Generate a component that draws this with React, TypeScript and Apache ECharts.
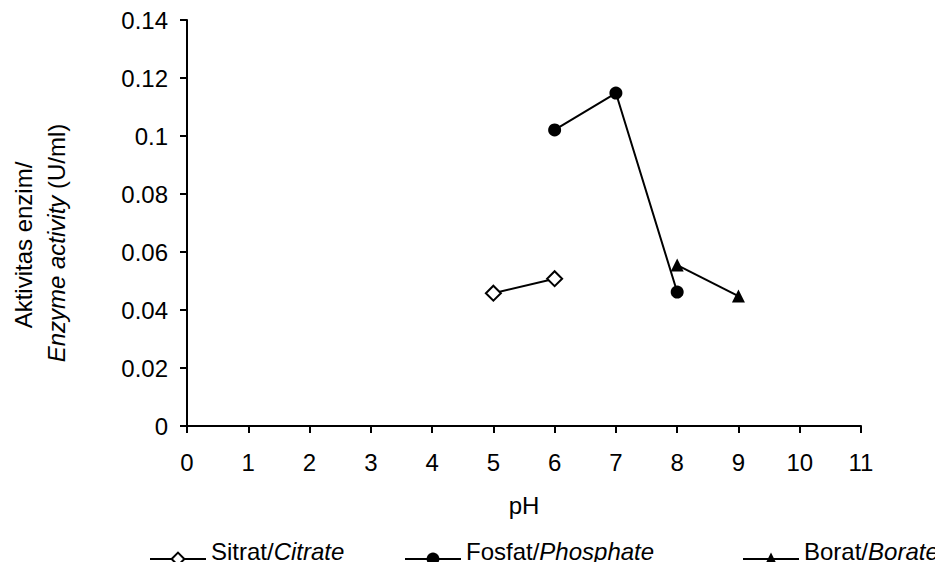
import React, { useEffect, useRef } from "react";
import * as echarts from "echarts";

const sitratX = [5, 6];
const sitratY = [0.0458, 0.0508];
const fosfatX = [6, 7, 8];
const fosfatY = [0.1021, 0.1148, 0.0462];
const boratX = [8, 9];
const boratY = [0.0555, 0.0448];

const FONT = "'Liberation Sans', Arial, sans-serif";
const FS = 24;

function pairs(xs: number[], ys: number[]) {
  return xs.map((x, i) => [x, ys[i]]);
}

export default function App() {
  const ref = useRef<HTMLDivElement>(null);
  useEffect(() => {
    if (!ref.current) return;
    const chart = echarts.init(ref.current, null, { renderer: "svg" });
    const tok = { fontFamily: FONT, fontSize: FS, color: "#000", lineHeight: 40, verticalAlign: "top" };
    const legendBase = {
      orient: "horizontal",
      top: 539,
      itemWidth: 56,
      itemHeight: 16,
      itemGap: 4,
      padding: 0,
      textStyle: {
        fontFamily: FONT,
        fontSize: FS,
        color: "#000",
        rich: {
          n: { ...tok },
          i: { ...tok, fontStyle: "italic" },
        },
      },
      formatter: (name: string) => {
        const p = name.split("/");
        return `{n|${p[0]}/}{i|${p[1]}}`;
      },
    };
    chart.setOption({
      animation: false,
      backgroundColor: "#fff",
      textStyle: { fontFamily: FONT },
      grid: { left: 187, right: 82, top: 20, bottom: 144, containLabel: false },
      xAxis: {
        type: "value",
        min: 0,
        max: 11,
        interval: 1,
        name: "pH",
        nameLocation: "middle",
        nameGap: 67,
        nameTextStyle: { fontFamily: FONT, fontSize: FS, color: "#000" },
        axisLine: { show: true, onZero: false, lineStyle: { color: "#000", width: 2 } },
        axisTick: { show: true, length: 7, lineStyle: { color: "#000", width: 2 } },
        axisLabel: { fontFamily: FONT, fontSize: FS, color: "#000", margin: 24 },
        splitLine: { show: false },
      },
      yAxis: {
        type: "value",
        min: 0,
        max: 0.14,
        interval: 0.02,
        axisLine: { show: true, lineStyle: { color: "#000", width: 2 } },
        axisTick: { show: true, length: 7, lineStyle: { color: "#000", width: 2 } },
        axisLabel: {
          fontFamily: FONT,
          fontSize: FS,
          color: "#000",
          margin: 19,
          formatter: (v: number) => String(Math.round(v * 100) / 100),
        },
        splitLine: { show: false },
      },
      legend: [
        { ...legendBase, left: 149, data: ["Sitrat/Citrate"] },
        { ...legendBase, left: 404, data: ["Fosfat/Phosphate"] },
        { ...legendBase, left: 742, data: ["Borat/Borate"] },
      ],
      graphic: [
        {
          type: "text",
          x: 23,
          y: 245,
          rotation: Math.PI / 2,
          style: {
            text: "Aktivitas enzim/",
            font: `${FS}px ${FONT}`,
            fill: "#000",
            align: "center",
            verticalAlign: "middle",
          },
        },
        {
          type: "text",
          x: 56,
          y: 243,
          rotation: Math.PI / 2,
          style: {
            text: "{i|Enzyme activity }{n|(U/ml)}",
            align: "center",
            verticalAlign: "middle",
            rich: {
              i: { fontFamily: FONT, fontSize: FS, fontStyle: "italic", fill: "#000" },
              n: { fontFamily: FONT, fontSize: FS, fill: "#000" },
            },
          },
        },
      ],
      series: [
        {
          name: "Sitrat/Citrate",
          type: "line",
          data: pairs(sitratX, sitratY),
          symbol: "emptyDiamond",
          symbolSize: 15,
          lineStyle: { color: "#000", width: 2 },
          itemStyle: { color: "#000", borderWidth: 2 },
        },
        {
          name: "Fosfat/Phosphate",
          type: "line",
          data: pairs(fosfatX, fosfatY),
          symbol: "circle",
          symbolSize: 13,
          lineStyle: { color: "#000", width: 2 },
          itemStyle: { color: "#000" },
        },
        {
          name: "Borat/Borate",
          type: "line",
          data: pairs(boratX, boratY),
          symbol: "triangle",
          symbolSize: 13,
          lineStyle: { color: "#000", width: 2 },
          itemStyle: { color: "#000" },
        },
      ],
    });
    return () => chart.dispose();
  }, []);
  return <div ref={ref} style={{ width: 943, height: 570, margin: -8 }} />;
}
